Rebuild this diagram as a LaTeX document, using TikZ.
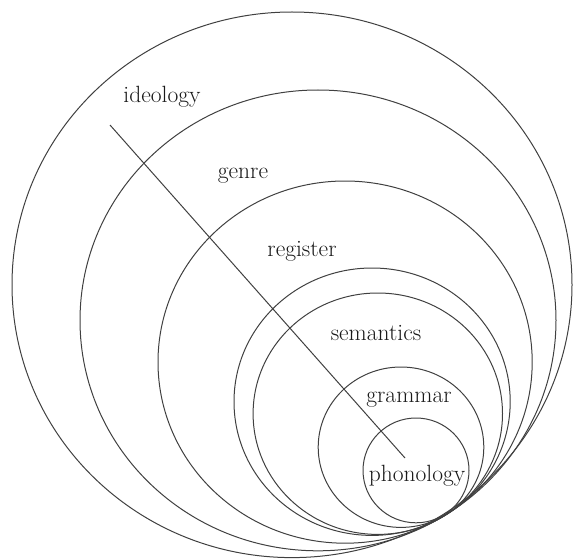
\documentclass[tikz,border=0pt]{standalone}
\usepackage{tikz}
\usetikzlibrary{calc}
\tikzset{
    ring/.style={line width=1pt,black!75},
    lbl/.style={font=\fontsize{23.5}{27}\selectfont,black!90}
}

\begin{document}
\begin{tikzpicture}[x=1pt,y=-1pt]
	\useasboundingbox (0,0) rectangle (573,559);

	% nested rings, all touching at the lower right
	\foreach \cx/\cy/\rx/\ry in {292/284.8/280/272.8, 318/320.4/238/230.4,
		345.1/362.1/187.1/181.1, 372.1/401.7/138.1/133.7, 377.8/413.7/124.7/120.7,
		401/447.2/82.8/80.2, 416/470.4/53/52.4}
		\draw[ring] (\cx,\cy) ellipse [x radius=\rx, y radius=\ry];

	\node[lbl] (ideology) at (162,97) {ideology};
	\node[lbl] (genre) at (243,176) {genre};
	\node[lbl] (register) at (302,251) {register};
	\node[lbl] (semantics) at (376,333) {semantics};
	\node[lbl] (grammar) at (409,400) {grammar};
	\node[lbl] (phonology) at (417,476) {phonology};

	\coordinate (top) at (110,125);
	\coordinate (bottom) at (405,458);
	\draw[ring] (top) -- (bottom);
\end{tikzpicture}
\end{document}
